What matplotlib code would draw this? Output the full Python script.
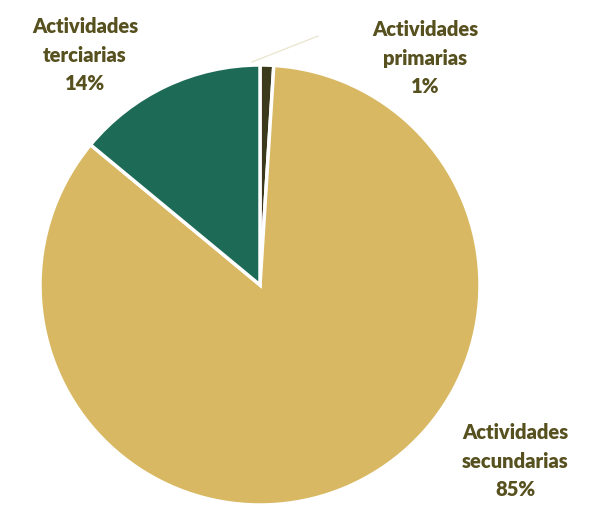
import matplotlib
matplotlib.use("Agg")
import matplotlib.pyplot as plt

categories = ["Actividades\nprimarias", "Actividades\nsecundarias", "Actividades\nterciarias"]
values = [1, 85, 14]
colors = ["#3b3a1c", "#d8b862", "#1d6b57"]

fig = plt.figure(figsize=(5.92, 5.11), dpi=100)
ax = fig.add_axes([0, 0, 1, 1])

cx, cy, r = 260, 511 - 285, 220
wedges, _ = ax.pie(values, colors=colors, startangle=90, counterclock=False,
                   center=(cx, cy), radius=r, frame=True,
                   wedgeprops=dict(edgecolor="white", linewidth=2.5))
ax.set_xlim(0, 592)
ax.set_ylim(0, 511)
ax.set_aspect("equal")
ax.axis("off")

label_pos = [(425, 511 - 58), (515, 511 - 461), (85, 511 - 55)]
txtcolor = "#57501f"
for cat, v, (x, y) in zip(categories, values, label_pos):
    ax.text(x, y, f"{cat}\n{v}%", ha="center", va="center", fontsize=14.5,
            fontweight="heavy", color=txtcolor, family="Lato", linespacing=1.6)

# leader line for small slice
ax.plot([252, 318], [511 - 62, 511 - 36], color="#ece7d2", lw=1)

fig.savefig("out.png", dpi=100)
